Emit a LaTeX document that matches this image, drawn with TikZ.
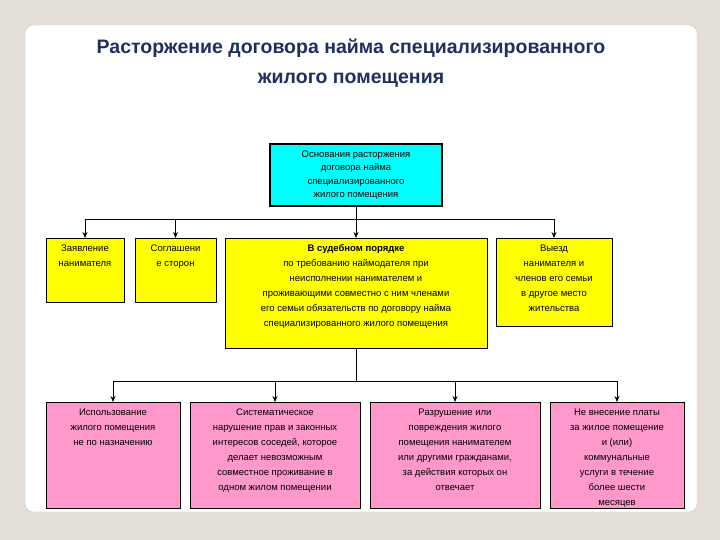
\documentclass[tikz,border=0pt]{standalone}
\usepackage{fontspec}
\setmainfont{Liberation Sans}
\usetikzlibrary{arrows.meta}
\definecolor{bgc}{HTML}{E3DED6}
\definecolor{cy}{HTML}{00FFFF}
\definecolor{ye}{HTML}{FFFF00}
\definecolor{pk}{HTML}{FF99CC}
\definecolor{tt}{HTML}{1F2F5F}
\newcommand{\tb}[3]{\parbox[t][#1][t]{#2}{\centering\rule{0pt}{13pt}#3}}
\begin{document}
\begin{tikzpicture}[x=1pt,y=-1pt,
 bx/.style={draw=black,line width=1pt,anchor=north,inner sep=0pt,font=\fontsize{9.5}{15}\selectfont},
 con/.style={line width=0.8pt,-{Stealth[length=6pt,width=5pt]}}]
\fill[bgc] (0,0) rectangle (720,540);
\fill[white,rounded corners=8pt] (25,25) rectangle (697,512);
\draw[gray!50,rounded corners=8pt] (25,25) rectangle (697,512);
\node[text=tt,font=\bfseries\fontsize{19.5}{30}\selectfont,align=center] (t) at (351,63) {Расторжение договора найма специализированного\\жилого помещения};
\node[bx,fill=cy,line width=1.8pt,minimum width=172pt,minimum height=62pt,align=center,font=\fontsize{9.5}{13.5}\selectfont] (c) at (356,143) {Основания расторжения\\договора найма\\специализированного\\жилого помещения};
\node[bx,fill=ye] (y1) at (85,238) {\tb{64pt}{78pt}{Заявление\\нанимателя}};
\node[bx,fill=ye] (y2) at (175.5,238) {\tb{64pt}{81pt}{Соглашени\\е сторон}};
\node[bx,fill=ye] (y3) at (356,238) {\tb{110pt}{262pt}{\textbf{В судебном порядке}\\по требованию наймодателя при\\неисполнении нанимателем и\\проживающими совместно с ним членами\\его семьи обязательств по договору найма\\специализированного жилого помещения}};
\node[bx,fill=ye] (y4) at (554,238) {\tb{88pt}{116pt}{Выезд\\нанимателя и\\членов его семьи\\в другое место\\жительства}};
\coordinate (b1) at (356,219);
\draw[line width=0.8pt] (c.south) -- (b1);
\draw[line width=0.8pt] (85,219) -- (555,219);
\draw[con] (85,219) -- (y1.north);
\draw[con] (175.5,219) -- (y2.north);
\draw[con] (b1) -- (y3.north);
\draw[con] (554,219) -- (y4.north);
\node[bx,fill=pk] (p1) at (113,402) {\tb{106pt}{134pt}{Использование\\жилого помещения\\не по назначению}};
\node[bx,fill=pk] (p2) at (275,402) {\tb{106pt}{170pt}{Систематическое\\нарушение прав и законных\\интересов соседей, которое\\делает невозможным\\совместное проживание в\\одном жилом помещении}};
\node[bx,fill=pk] (p3) at (455,402) {\tb{106pt}{170pt}{Разрушение или\\повреждения жилого\\помещения нанимателем\\или другими гражданами,\\за действия которых он\\отвечает}};
\node[bx,fill=pk] (p4) at (617,402) {\tb{106pt}{134pt}{Не внесение платы\\за жилое помещение\\и (или)\\коммунальные\\услуги в течение\\более шести\\месяцев}};
\coordinate (b2) at (356,381);
\draw[line width=0.8pt] (y3.south) -- (b2);
\draw[line width=0.8pt] (113,381) -- (617,381);
\draw[con] (113,381) -- (p1.north);
\draw[con] (275,381) -- (p2.north);
\draw[con] (455,381) -- (p3.north);
\draw[con] (617,381) -- (p4.north);
\end{tikzpicture}
\end{document}
